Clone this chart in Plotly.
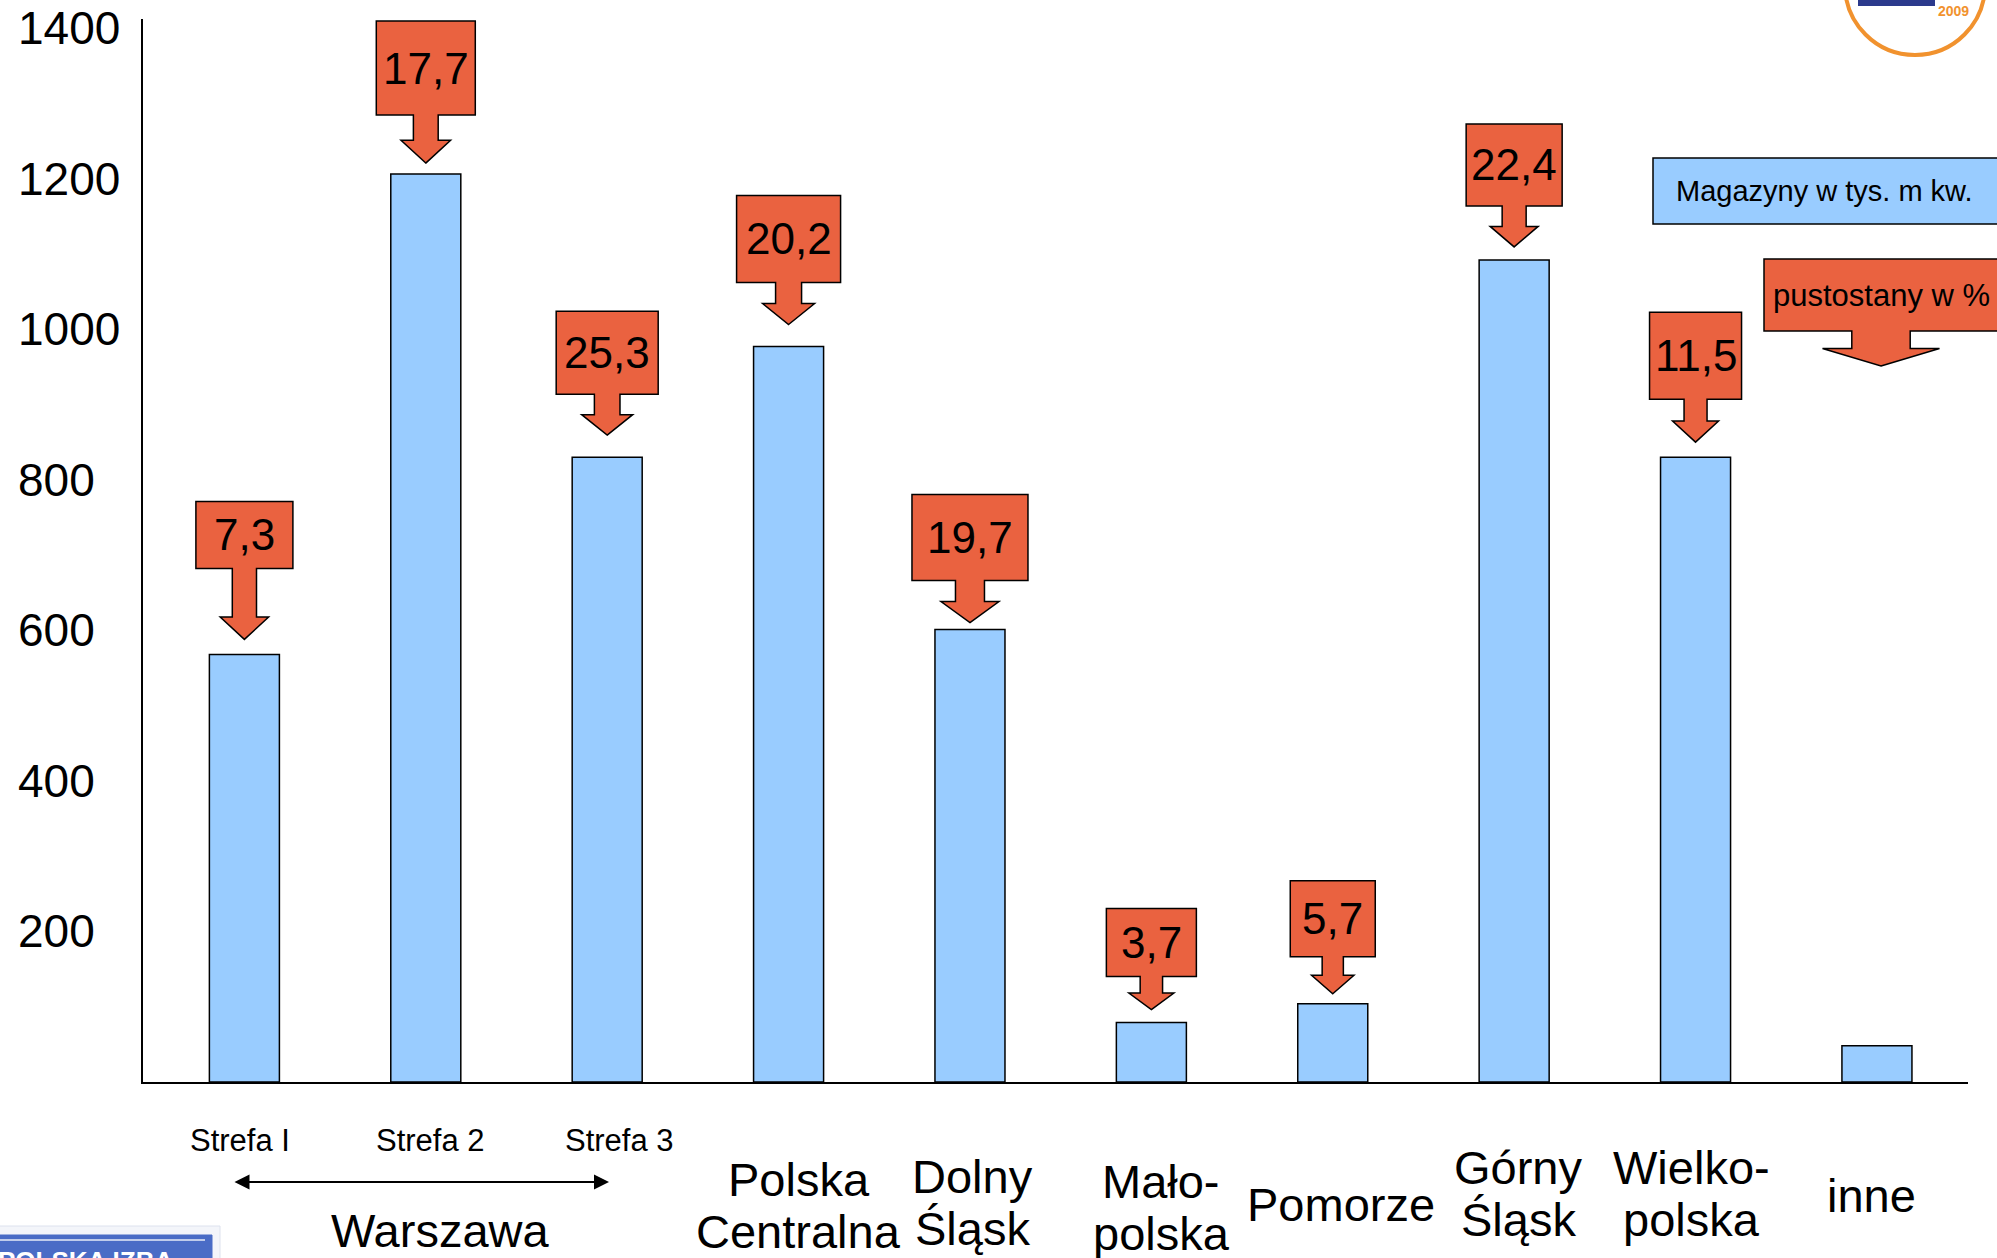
import plotly.graph_objects as go

# ---------------- data ----------------
categories = ["Strefa I", "Strefa 2", "Strefa 3", "Polska Centralna", "Dolny Śląsk",
              "Małopolska", "Pomorze", "Górny Śląsk", "Wielkopolska", "inne"]
warehouse_k_sqm = [568, 1206, 830, 977, 601, 79, 104, 1092, 830, 48]
vacancy_pct = [7.3, 17.7, 25.3, 20.2, 19.7, 3.7, 5.7, 22.4, 11.5, None]
axis_labels = ["", "", "", "Polska<br>Centralna", "Dolny<br>Śląsk", "Mało-<br>polska",
               "Pomorze", "Górny<br>Śląsk", "Wielko-<br>polska", "inne"]
zone_labels = ["Strefa I", "Strefa 2", "Strefa 3"]
group_label = "Warszawa"
y_ticks = [200, 400, 600, 800, 1000, 1200, 1400]
legend_bars = "Magazyny w tys. m kw."
legend_callouts = "pustostany w %"

# ---------------- styles / geometry (pixels) ----------------
W, H = 1997, 1258
PL, PR, PT, PB = 143, 1968, 19, 1082
FONT = "Liberation Sans, Arial, sans-serif"
BAR_COLOR = "#99CCFF"
RED = "#EA6240"

callout_box_w = [97, 99, 102, 104, 116, 90, 85, 96, 92]
callout_box_h = [67, 94, 83, 87, 86, 68, 76, 82, 87]
callout_arrow = [71, 48, 41, 42, 42, 33, 37, 41, 43]
callout_gap = [15, 11, 22, 22, 7, 13, 10, 13, 15]

label_center_px = [None, None, None, 1205, 1202, 1207, 1204, 1193, 1193, 1195]
label_xshift = [0, 0, 0, 10, 3, 10, 8, 4, -4, -5]
zone_xshift = [-4, 5, 12]


def px_x(px):
    return (px - PL) / (PR - PL)


def px_y(py):
    return (PB - py) / (PB - PT)


def callout_path(w, h, L, g):
    sw, hw = 0.25 * w, 0.5 * w
    hh = min(0.5 * L, 0.23 * w)
    pts = [(0, g), (hw / 2, g + hh), (sw / 2, g + hh), (sw / 2, g + L), (w / 2, g + L),
           (w / 2, g + L + h), (-w / 2, g + L + h), (-w / 2, g + L), (-sw / 2, g + L),
           (-sw / 2, g + hh), (-hw / 2, g + hh)]
    return "M " + " L ".join(f"{x:.1f},{y:.1f}" for x, y in pts) + " Z"


fig = go.Figure()
fig.add_trace(go.Bar(
    x=categories, y=warehouse_k_sqm,
    marker=dict(color=BAR_COLOR, line=dict(color="black", width=1.5)),
    hoverinfo="skip", showlegend=False,
))

shapes = []
annotations = []

# y tick labels (left aligned as in the slide)
for t in y_ticks:
    annotations.append(dict(x=px_x(16), xref="paper", y=t, yref="y", text=str(t),
                            showarrow=False, xanchor="left", yanchor="middle",
                            font=dict(family=FONT, size=46, color="black")))

# vacancy callouts
for i, v in enumerate(vacancy_pct):
    if v is None:
        continue
    w, h, L, g = callout_box_w[i], callout_box_h[i], callout_arrow[i], callout_gap[i]
    shapes.append(dict(type="path", xref="x", yref="y", xsizemode="pixel", ysizemode="pixel",
                       xanchor=i, yanchor=warehouse_k_sqm[i], path=callout_path(w, h, L, g),
                       fillcolor=RED, line=dict(color="black", width=1.5), layer="above"))
    annotations.append(dict(x=i, xref="x", y=warehouse_k_sqm[i], yref="y",
                            yshift=g + L + h / 2, text=f"{v:.1f}".replace(".", ","),
                            showarrow=False, xanchor="center", yanchor="middle",
                            font=dict(family=FONT, size=44, color="black")))

# category labels
for i, lab in enumerate(axis_labels):
    if not lab:
        continue
    lines = lab.split("<br>")
    n = len(lines)
    for k, line in enumerate(lines):
        py = label_center_px[i] + (k - (n - 1) / 2) * 52
        annotations.append(dict(x=i, xref="x", y=px_y(py), yref="paper", text=line,
                                xshift=label_xshift[i], showarrow=False,
                                xanchor="center", yanchor="middle",
                                font=dict(family=FONT, size=47, color="black")))

# Warsaw zones
for i, z in enumerate(zone_labels):
    annotations.append(dict(x=i, xref="x", y=px_y(1140), yref="paper", text=z,
                            xshift=zone_xshift[i], showarrow=False, xanchor="center",
                            yanchor="middle", font=dict(family=FONT, size=31, color="black")))
annotations.append(dict(x=2.01, xref="x", y=px_y(1182), yref="paper", ax=-0.063, axref="x",
                        ay=0, ayref="pixel", text="", showarrow=True, arrowhead=2,
                        startarrowhead=2, arrowside="end+start", arrowsize=1.5,
                        startarrowsize=1.5, arrowwidth=2, arrowcolor="black",
                        standoff=0, startstandoff=0))
annotations.append(dict(x=1, xref="x", y=px_y(1230), yref="paper", text=group_label,
                        xshift=14, showarrow=False, xanchor="center", yanchor="middle",
                        font=dict(family=FONT, size=47, color="black")))

# legend boxes
shapes.append(dict(type="rect", xref="paper", yref="paper", x0=px_x(1653), x1=px_x(2010),
                   y0=px_y(224), y1=px_y(158), fillcolor=BAR_COLOR,
                   line=dict(color="black", width=1.5), layer="above"))
annotations.append(dict(x=px_x(1824), xref="paper", y=px_y(191), yref="paper",
                        text=legend_bars, showarrow=False, xanchor="center", yanchor="middle",
                        font=dict(family=FONT, size=29, color="black")))
shapes.append(dict(type="path", xref="paper", yref="paper", xsizemode="pixel",
                   ysizemode="pixel", xanchor=px_x(1881), yanchor=px_y(366),
                   path=callout_path(234, 72, 35, 0), fillcolor=RED,
                   line=dict(color="black", width=1.5), layer="above"))
annotations.append(dict(x=px_x(1881), xref="paper", y=px_y(296), yref="paper",
                        text=legend_callouts, showarrow=False, xanchor="center",
                        yanchor="middle", font=dict(family=FONT, size=31, color="black")))

# logos (decorative, partially cropped)
shapes.append(dict(type="circle", xref="paper", yref="paper", x0=px_x(1845), x1=px_x(1985),
                   y0=px_y(55), y1=px_y(-85), fillcolor="white",
                   line=dict(color="#F1922E", width=4), layer="above"))
shapes.append(dict(type="rect", xref="paper", yref="paper", x0=px_x(1858), x1=px_x(1935),
                   y0=px_y(6), y1=px_y(-5), fillcolor="#2B3A8C", line=dict(width=0),
                   layer="above"))
annotations.append(dict(x=px_x(1953), xref="paper", y=px_y(11), yref="paper", text="<b>2009</b>",
                        showarrow=False, xanchor="center", yanchor="middle",
                        font=dict(family=FONT, size=14, color="#F1922E")))
shapes.append(dict(type="rect", xref="paper", yref="paper", x0=px_x(-5), x1=px_x(220),
                   y0=px_y(1270), y1=px_y(1226), fillcolor="#F3F5FA",
                   line=dict(color="#DDE2EE", width=1), layer="above"))
shapes.append(dict(type="rect", xref="paper", yref="paper", x0=px_x(-5), x1=px_x(212),
                   y0=px_y(1270), y1=px_y(1235), fillcolor="#4A6CC6",
                   line=dict(color="#4A6CC6", width=1), layer="above"))
shapes.append(dict(type="line", xref="paper", yref="paper", x0=px_x(-5), x1=px_x(205),
                   y0=px_y(1240), y1=px_y(1240), line=dict(color="#E8ECF7", width=1.5),
                   layer="above"))
annotations.append(dict(x=px_x(-4), xref="paper", y=px_y(1244), yref="paper",
                        text="<b>POLSKA IZBA</b>", showarrow=False, xanchor="left",
                        yanchor="top", font=dict(family=FONT, size=26, color="white")))

fig.update_layout(
    width=W, height=H,
    margin=dict(l=PL, r=W - PR, t=PT, b=H - PB, pad=0),
    paper_bgcolor="white", plot_bgcolor="white",
    bargap=0.614,
    showlegend=False,
    xaxis=dict(type="category", range=[-0.559, 9.502], showline=True, linecolor="black",
               linewidth=2, showticklabels=False, ticks="", showgrid=False, zeroline=False),
    yaxis=dict(range=[0, 1412], showline=True, linecolor="black", linewidth=2,
               showticklabels=False, ticks="", showgrid=False, zeroline=False),
    shapes=shapes,
    annotations=annotations,
)

fig.write_html("out.html")
